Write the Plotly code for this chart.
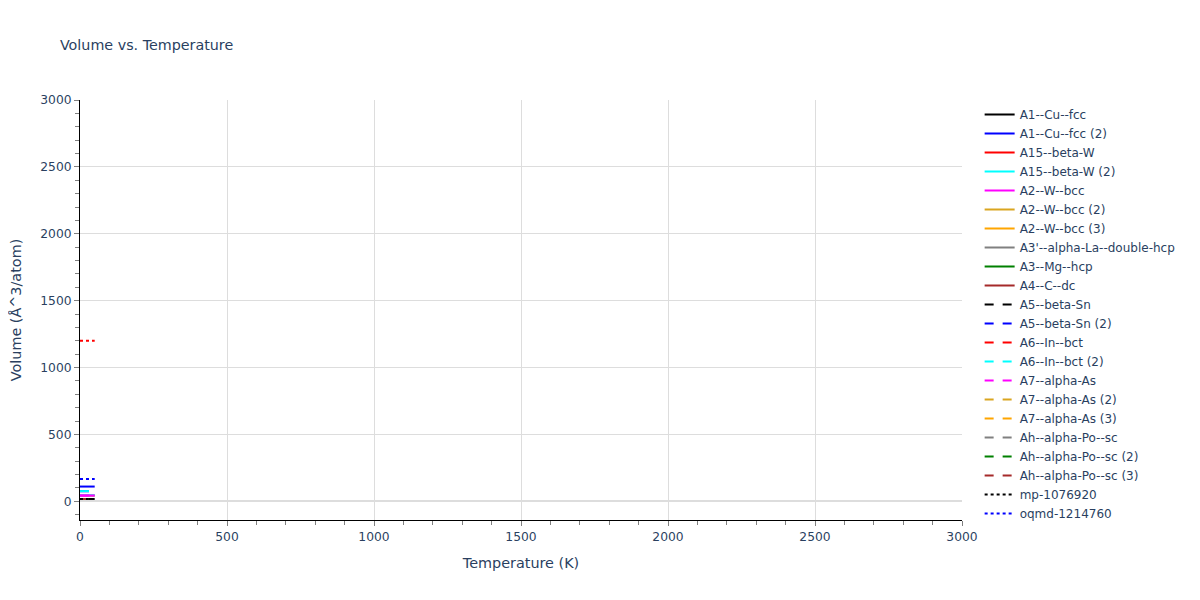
import plotly.graph_objects as go

# Temperatures (K) at which each phase was sampled
temps = [0, 10, 20, 30, 40, 50]
temps_short = [0, 10, 20, 30]

# Volumes (Å^3/atom)
names = ['A1--Cu--fcc', 'A1--Cu--fcc (2)', 'A15--beta-W', 'A15--beta-W (2)',
         'A2--W--bcc', 'A2--W--bcc (2)', 'A2--W--bcc (3)', "A3'--alpha-La--double-hcp",
         'A3--Mg--hcp', 'A4--C--dc', 'A5--beta-Sn', 'A5--beta-Sn (2)',
         'A6--In--bct', 'A6--In--bct (2)', 'A7--alpha-As', 'A7--alpha-As (2)',
         'A7--alpha-As (3)', 'Ah--alpha-Po--sc', 'Ah--alpha-Po--sc (2)', 'Ah--alpha-Po--sc (3)',
         'mp-1076920', 'oqmd-1214760', 'oqmd-1214760 (2)']
volumes = [17, 110, 43, 45, 43, 17, 17, 17,
           17, 17, 17, 75, 17, 76, 43, 17,
           17, 17, 17, 17, 17, 167, 1200]
short = [False, False, False, False, False, True, True, True,
         True, True, True, False, True, False, False, True,
         True, True, True, True, True, False, False]

colors = ['black', 'blue', 'red', 'cyan', 'magenta', 'goldenrod', 'orange', 'gray', 'green', 'brown']
dashes = ['solid', 'dash', 'dot']

fig = go.Figure()
for i, name in enumerate(names):
    xs = temps_short if short[i] else temps
    fig.add_trace(go.Scatter(
        x=xs, y=[volumes[i]] * len(xs), mode='lines', name=name,
        line=dict(color=colors[i % 10], dash=dashes[i // 10], width=2),
        showlegend=i < 22,
    ))

axis_style = dict(showline=True, linecolor='black', ticks='outside', tickcolor='gray',
                  minor=dict(ticks='outside', tickcolor='gray', ticklen=4),
                  gridcolor='#dddddd', zerolinecolor='#dddddd', zerolinewidth=2,
                  automargin=False, tickfont=dict(size=12.3), title_font=dict(size=14.4))

fig.update_layout(
    title=dict(text='Volume vs. Temperature', font=dict(size=14.3), x=0.0433, y=0.947),
    width=1200, height=600,
    font=dict(family='DejaVu Sans, sans-serif', size=12, color='#2a3f5f'),
    margin=dict(l=72, r=246, t=92, b=88),
    plot_bgcolor='white',
    xaxis=dict(title='Temperature (K)', range=[0, 3000], **axis_style),
    yaxis=dict(title='Volume (Å^3/atom)', range=[-140, 3000], **axis_style),
    legend=dict(font=dict(size=12), x=1.02, maxheight=520),
)

fig.write_html("out.html")
